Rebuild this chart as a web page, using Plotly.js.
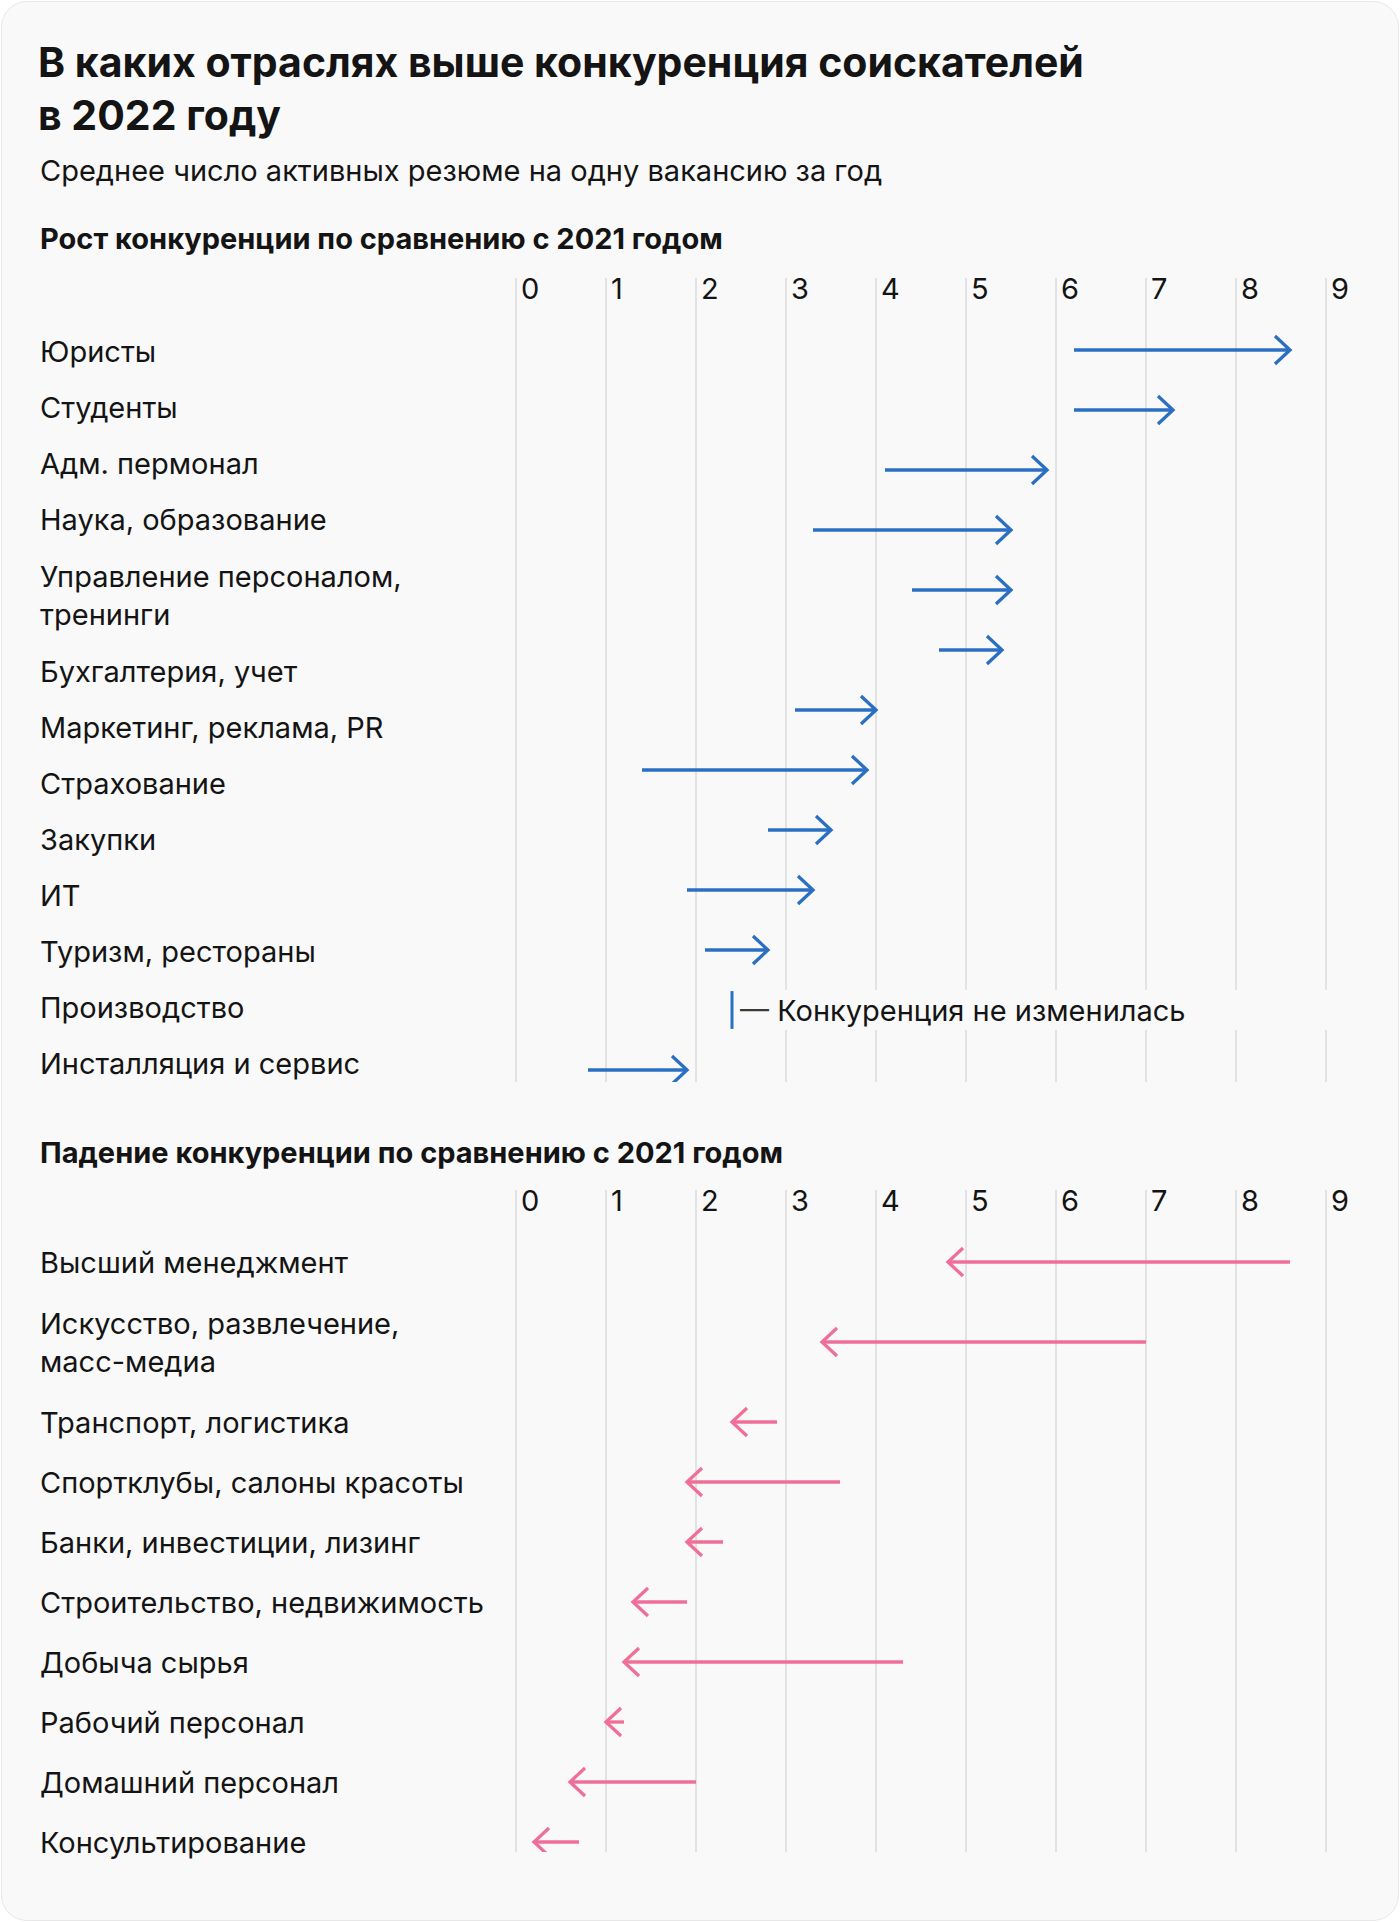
<!DOCTYPE html>
<html>
<head>
<meta charset="utf-8">
<script src="https://cdn.plot.ly/plotly-3.0.1.min.js"></script>
<style>
html,body{margin:0;padding:0;background:#ffffff;}
#card{position:absolute;left:1px;top:1px;width:1396px;height:1918px;border:1px solid #e8e8e8;border-radius:26px;background:#f9f9f9;}
#chart{position:absolute;left:0;top:0;width:1400px;height:1922px;}
</style>
</head>
<body>
<div id="card"></div>
<div id="chart"></div>
<script>
// ---------- DATA ----------
const upperCats = ['Юристы','Студенты','Адм. пермонал','Наука, образование','Управление персоналом,<br>тренинги','Бухгалтерия, учет','Маркетинг, реклама, PR','Страхование','Закупки','ИТ','Туризм, рестораны','Производство','Инсталляция и сервис'];
const upper2021 = [6.2, 6.2, 4.1, 3.3, 4.4, 4.7, 3.1, 1.4, 2.8, 1.9, 2.1, 2.4, 0.8];
const upper2022 = [8.6, 7.3, 5.9, 5.5, 5.5, 5.4, 4.0, 3.9, 3.5, 3.3, 2.8, 2.4, 1.9];

const lowerCats = ['Высший менеджмент','Искусство, развлечение,<br>масс-медиа','Транспорт, логистика','Спортклубы, салоны красоты','Банки, инвестиции, лизинг','Строительство, недвижимость','Добыча сырья','Рабочий персонал','Домашний персонал','Консультирование'];
const lower2021 = [8.6, 7.0, 2.9, 3.6, 2.3, 1.9, 4.3, 1.2, 2.0, 0.7];
const lower2022 = [4.8, 3.4, 2.4, 1.9, 1.9, 1.3, 1.2, 1.0, 0.6, 0.2];

const xTickVals = [0, 1, 2, 3, 4, 5, 6, 7, 8, 9];
const xTickText = ['0','1','2','3','4','5','6','7','8','9'];

const titleText = 'В каких отраслях выше конкуренция соискателей<br>в 2022 году';
const subtitleText = 'Среднее число активных резюме на одну вакансию за год';
const upperHeader = 'Рост конкуренции по сравнению с 2021 годом';
const lowerHeader = 'Падение конкуренции по сравнению с 2021 годом';
const unchangedNote = 'Конкуренция не изменилась';

// ---------- STYLE / LAYOUT HELPERS ----------
const W = 1400, H = 1922;
const FONT = 'Inter, "Noto Sans", sans-serif';
const BLUE = '#2a6fc2', PINK = '#f06f98', GRID = '#e2e2e2', CARD = '#f9f9f9', INK = '#141414';
const FS = 29;                // body font size
const UNIT = 90;              // px per x unit
const HX = 15 / UNIT;         // arrow head depth in x units
const HY = 14;                // arrow head half height (y units = px)
const xp = px => px / W;
const yp = py => 1 - py / H;
const nLines = s => s.split('<br>').length;

// upper rows: even 60px spacing for marks
const upperY = upperCats.map((c, i) => i * 60);
// upper labels: stacked slots (56px per single line, +40 per extra line)
const upperLabelY = [];
(function(){ let cum = 0; upperCats.forEach(c => { const h = 16 + 40 * nLines(c); upperLabelY.push(cum + h / 2 - 27); cum += h; }); })();
// lower rows: stacked slots (60px single, +40 per extra line)
const lowerY = [];
(function(){ let cum = 0; lowerCats.forEach(c => { const h = 20 + 40 * nLines(c); lowerY.push(cum + h / 2); cum += h; }); })();

function arrowTraces(a, b, ys, color, xa, ya) {
  const sx = [], sy = [], hx = [], hy = [], mx = [], my = [];
  a.forEach((v, i) => {
    const e = b[i], y = ys[i];
    if (e === v) { mx.push(e); my.push(y); return; }
    const d = Math.sign(e - v);
    sx.push(v, e, null); sy.push(y, y, null);
    hx.push(e - d * HX, e, e - d * HX, null); hy.push(y - HY, y, y + HY, null);
  });
  const base = {xaxis: xa, yaxis: ya, hoverinfo: 'skip', showlegend: false, cliponaxis: false};
  const out = [
    Object.assign({type: 'scatter', mode: 'lines', x: sx, y: sy, line: {color: color, width: 3.3}}, base),
    Object.assign({type: 'scatter', mode: 'lines', x: hx, y: hy, line: {color: color, width: 3.3}}, base)
  ];
  if (mx.length) out.push(Object.assign({type: 'scatter', mode: 'markers', x: mx, y: my,
      marker: {symbol: 'line-ns-open', size: 27, color: color, line: {color: color, width: 3}}}, base));
  return out;
}

const traces = [].concat(
  arrowTraces(upper2021, upper2022, upperY, BLUE, 'x', 'y'),
  arrowTraces(lower2021, lower2022, lowerY, PINK, 'x2', 'y2')
);

const xCommon = {
  range: [-0.2, 9.2], domain: [xp(516 - 18), xp(1326 + 18)],
  side: 'top', tickmode: 'array', tickvals: xTickVals, ticktext: xTickText,
  ticklabelposition: 'inside right', ticklabeloverflow: 'allow', ticklabelshift: 5, ticklabelstandoff: -5,
  tickfont: {family: FONT, size: FS, color: INK},
  showgrid: true, gridcolor: GRID, gridwidth: 2, zeroline: false, showline: false, ticks: '',
  fixedrange: true
};

const annotations = [
  {text: subtitleText, xref: 'paper', yref: 'paper', x: xp(38), y: yp(170), xanchor: 'left', yanchor: 'middle',
   showarrow: false, font: {family: FONT, size: FS, color: INK}},
  {text: upperHeader, xref: 'paper', yref: 'paper', x: xp(38), y: yp(239), xanchor: 'left', yanchor: 'middle',
   showarrow: false, font: {family: FONT, size: FS, color: INK, weight: 700}},
  {text: lowerHeader, xref: 'paper', yref: 'paper', x: xp(38), y: yp(1152), xanchor: 'left', yanchor: 'middle',
   showarrow: false, font: {family: FONT, size: FS, color: INK, weight: 700}}
];
upperCats.forEach((c, i) => annotations.push({text: c, xref: 'paper', yref: 'y', x: xp(38), y: upperLabelY[i],
  xanchor: 'left', yanchor: 'middle', align: 'left', showarrow: false, font: {family: FONT, size: FS, color: INK}}));
lowerCats.forEach((c, i) => annotations.push({text: c, xref: 'paper', yref: 'y2', x: xp(38), y: lowerY[i],
  xanchor: 'left', yanchor: 'middle', align: 'left', showarrow: false, font: {family: FONT, size: FS, color: INK}}));

const shapes = [];
upper2021.forEach((v, i) => {
  if (v === upper2022[i]) {
    shapes.push({type: 'rect', xref: 'x', yref: 'y', x0: v + 6 / UNIT, x1: 9.2, y0: upperY[i] - 20, y1: upperY[i] + 20,
      fillcolor: CARD, line: {width: 0}, layer: 'between'});
    annotations.push({text: '<span style="color:#3a3a3a">—</span> ' + unchangedNote, xref: 'x', yref: 'y', x: v, y: upperY[i],
      xshift: 6, xanchor: 'left', yanchor: 'middle', showarrow: false, font: {family: FONT, size: FS, color: INK}});
  }
});

const layout = {
  width: W, height: H, margin: {l: 0, r: 0, t: 0, b: 0, pad: 0},
  paper_bgcolor: 'rgba(0,0,0,0)', plot_bgcolor: 'rgba(0,0,0,0)',
  showlegend: false, font: {family: FONT, color: INK},
  title: {text: titleText, xref: 'paper', yref: 'paper', x: xp(38), xanchor: 'left', y: yp(77), yanchor: 'top',
          font: {family: FONT, size: 41, color: INK, weight: 700}},
  xaxis: Object.assign({anchor: 'y'}, xCommon),
  yaxis: {domain: [yp(1082), yp(278)], range: [732, -72], visible: false, fixedrange: true},
  xaxis2: Object.assign({anchor: 'y2'}, xCommon),
  yaxis2: {domain: [yp(1852), yp(1190)], range: [620, -42], visible: false, fixedrange: true},
  annotations: annotations,
  shapes: shapes
};

Plotly.newPlot('chart', traces, layout, {staticPlot: true, displayModeBar: false});
</script>
</body>
</html>
